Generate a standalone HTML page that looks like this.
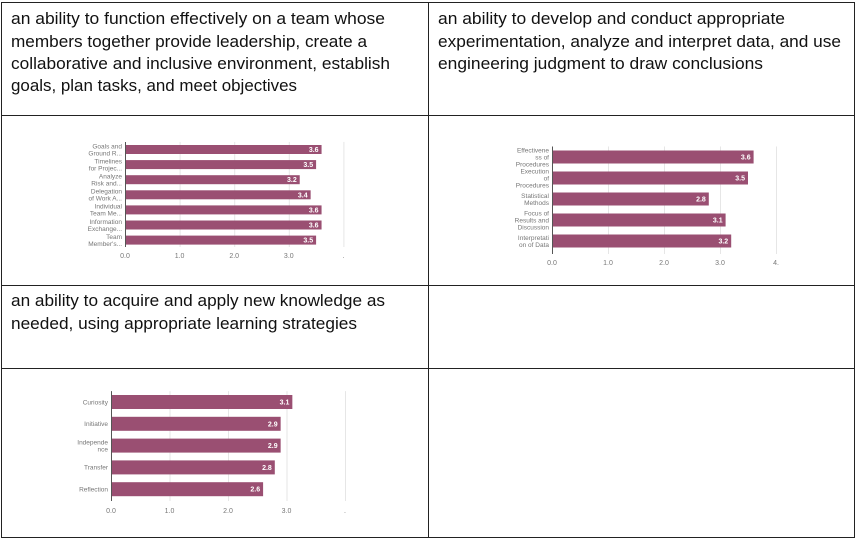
<!DOCTYPE html>
<html><head><meta charset="utf-8"><style>
html,body{margin:0;padding:0;background:#fff;}
svg{display:block;font-family:"Liberation Sans",sans-serif;}
</style></head><body>
<svg id="s" width="856" height="540" viewBox="0 0 856 540">
<g stroke="#222" stroke-width="1" fill="none">
<rect x="1.5" y="2.5" width="853" height="535"/>
<line x1="428.5" y1="2" x2="428.5" y2="538"/>
<line x1="1" y1="115.5" x2="855" y2="115.5"/>
<line x1="1" y1="285.5" x2="855" y2="285.5"/>
<line x1="1" y1="368.5" x2="855" y2="368.5"/>
</g>
<g font-size="17" fill="#111">
<text x="11" y="24" textLength="374" lengthAdjust="spacingAndGlyphs">an ability to function effectively on a team whose</text>
<text x="11" y="47" textLength="356" lengthAdjust="spacingAndGlyphs">members together provide leadership, create a</text>
<text x="11" y="69" textLength="379" lengthAdjust="spacingAndGlyphs">collaborative and inclusive environment, establish</text>
<text x="11" y="91" textLength="286" lengthAdjust="spacingAndGlyphs">goals, plan tasks, and meet objectives</text>
<text x="438" y="24" textLength="347" lengthAdjust="spacingAndGlyphs">an ability to develop and conduct appropriate</text>
<text x="438" y="47" textLength="403" lengthAdjust="spacingAndGlyphs">experimentation, analyze and interpret data, and use</text>
<text x="438" y="69" textLength="325" lengthAdjust="spacingAndGlyphs">engineering judgment to draw conclusions</text>
<text x="11" y="306" textLength="374" lengthAdjust="spacingAndGlyphs">an ability to acquire and apply new knowledge as</text>
<text x="11" y="329" textLength="346" lengthAdjust="spacingAndGlyphs">needed, using appropriate learning strategies</text>
</g>
<g id="charts"></g>
</svg>
<script>
const cats1=[["Goals and","Ground R..."],["Timelines","for Projec..."],["Analyze","Risk and..."],["Delegation","of Work A..."],["Individual","Team Me..."],["Information","Exchange..."],["Team","Member's..."]];
const vals1=[3.6,3.5,3.2,3.4,3.6,3.6,3.5];
const ticks1=["0.0","1.0","2.0","3.0","."];
const cats2=[["Effectivene","ss of","Procedures"],["Execution","of","Procedures"],["Statistical","Methods"],["Focus of","Results and","Discussion"],["Interpretati","on of Data"]];
const vals2=[3.6,3.5,2.8,3.1,3.2];
const ticks2=["0.0","1.0","2.0","3.0","4."];
const cats3=[["Curiosity"],["Initiative"],["Independe","nce"],["Transfer"],["Reflection"]];
const vals3=[3.1,2.9,2.9,2.8,2.6];
const ticks3=["0.0","1.0","2.0","3.0","."];
const NS="http://www.w3.org/2000/svg";
const root=document.getElementById("charts");
function mk(tag,attrs,parent){const e=document.createElementNS(NS,tag);for(const k in attrs)e.setAttribute(k,attrs[k]);parent.appendChild(e);return e;}
function chart(id,cats,vals,ticks,cfg){
  const g=mk("g",{},root);
  
  
  const x=v=>cfg.x0+v*cfg.unit;
  const y=i=>cfg.yTop+i*cfg.step;
  ticks.forEach((t,i)=>{
    if(i>0){const l=mk("line",{x1:x(i)+0.5,x2:x(i)+0.5,y1:cfg.yTop-cfg.step/2,y2:cfg.axisBottom,stroke:"#e6e6e6"},g);
    
    }
    const tx=mk("text",{x:x(i),y:cfg.tickY,"font-size":7,fill:"#777","text-anchor":"middle"},g);
    
    
    tx.textContent=t;
  });
  const ax=mk("line",{x1:cfg.x0+0.5,x2:cfg.x0+0.5,y1:cfg.yTop-cfg.step/2,y2:cfg.axisBottom,stroke:"#555"},g);
  
  
  vals.forEach((v,i)=>{
    const cy=y(i);
    const r=mk("rect",{x:cfg.x0+1,y:cy-cfg.bh/2,width:x(v)-cfg.x0-1,height:cfg.bh,fill:"#9a4f72"},g);
    
    
    const vt=mk("text",{x:x(v)-3,y:cy+2.5,"font-size":7,fill:"#fff","text-anchor":"end","font-weight":"bold"},g);
    
    
    vt.textContent=v.toFixed(1);
    const lines=cats[i];const lh=7;
    const lt=mk("text",{x:cfg.x0-3,"font-size":6.5,fill:"#777","text-anchor":"end"},g);
    
    
    lines.forEach((s,j)=>{const ts=mk("tspan",{x:cfg.x0-3,y:cy+2.3+(j-(lines.length-1)/2)*lh},lt);ts.textContent=s;});
  });
}
chart("chart-teamwork",cats1,vals1,ticks1,{x0:125,unit:54.6,yTop:149.5,step:15.1,bh:9,axisBottom:247,tickY:258});
chart("chart-experimentation",cats2,vals2,ticks2,{x0:552,unit:56,yTop:157,step:21,bh:13,axisBottom:254,tickY:265});
chart("chart-learning",cats3,vals3,ticks3,{x0:111,unit:58.5,yTop:402,step:21.8,bh:14,axisBottom:501,tickY:513});
</script>
</body></html>
